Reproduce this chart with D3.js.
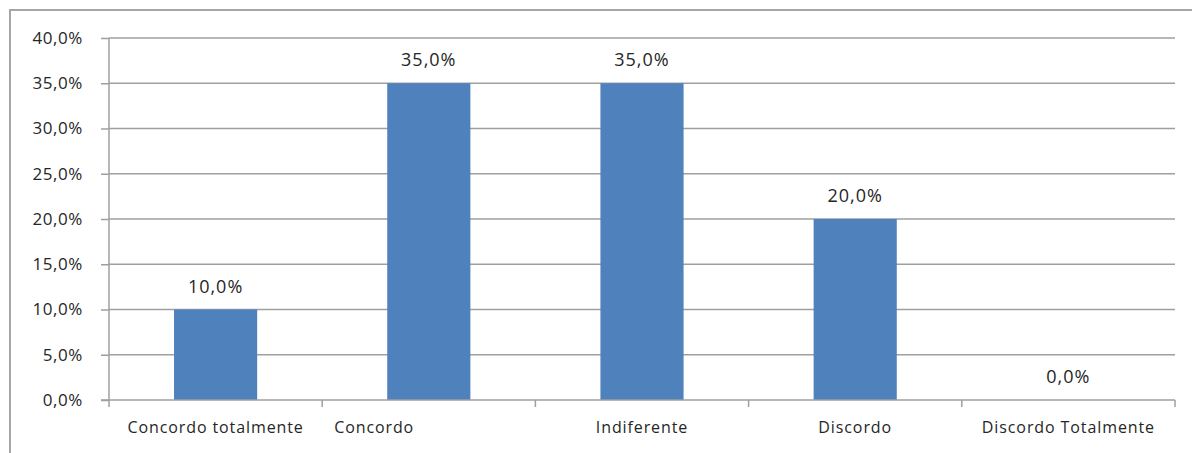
<!DOCTYPE html>
<html>
<head>
<meta charset="utf-8">
<script src="https://cdn.jsdelivr.net/npm/d3@7"></script>
<style>
body { margin: 0; background: #fff; }
svg { display: block; }
</style>
</head>
<body>
<div id="svgWrapper"></div>
<script>
"use strict"
// data
var categories = ["Concordo totalmente", "Concordo", "Indiferente", "Discordo", "Discordo Totalmente"];
var values = [0.10, 0.35, 0.35, 0.20, 0.0];
var yTicks = [0, 0.05, 0.10, 0.15, 0.20, 0.25, 0.30, 0.35, 0.40];

function fmt(v) {
    return (v * 100).toFixed(1).replace(".", ",") + "%";
}

function visualiseData() {
    var fullWidth = 1192;
    var fullHeight = 453;
    const svg = d3.select("#svgWrapper").append("svg").attr("width", fullWidth).attr("height", fullHeight);

    var left = 109, right = 1175, top = 38, bottom = 400;

    // outer frame (only top and left visible)
    svg.append("path")
        .attr("d", "M10," + fullHeight + " L10,10 L" + fullWidth + ",10")
        .attr("fill", "none").attr("stroke", "#a6a6a6").attr("stroke-width", 2);

    var xScale = d3.scaleBand().domain(categories).range([left, right]).paddingInner(0.61).paddingOuter(0.305);
    var yScale = d3.scaleLinear().domain([0, 0.4]).range([bottom, top]);

    // gridlines
    svg.append("g").selectAll("line").data(yTicks.filter(d => d > 0)).enter().append("line")
        .attr("x1", left).attr("x2", right)
        .attr("y1", d => yScale(d)).attr("y2", d => yScale(d))
        .attr("stroke", "#9f9f9f").attr("stroke-width", 1.5);

    // bars
    svg.append("g").selectAll("rect").data(values).enter().append("rect")
        .attr("x", (d, i) => xScale(categories[i]))
        .attr("width", xScale.bandwidth())
        .attr("y", d => yScale(d))
        .attr("height", d => bottom - yScale(d))
        .attr("fill", "#4f81bd");

    // value labels
    svg.append("g").selectAll("text").data(values).enter().append("text")
        .attr("x", (d, i) => xScale(categories[i]) + xScale.bandwidth() / 2)
        .attr("y", d => yScale(d) - 17)
        .attr("text-anchor", "middle")
        .attr("font-family", "Open Sans, sans-serif").attr("font-size", 18)
        .attr("letter-spacing", 1)
        .attr("fill", "#262626")
        .text(d => fmt(d));

    // y axis
    var yAxis = d3.axisLeft(yScale).tickValues(yTicks).tickFormat(fmt).tickSize(8).tickPadding(18);
    var gy = svg.append("g").attr("transform", "translate(" + left + ",0)").call(yAxis);
    gy.select(".domain").attr("stroke", "#9f9f9f").attr("stroke-width", 1.5).attr("d", "M0," + top + "V" + bottom);
    gy.selectAll(".tick line").attr("stroke", "#9f9f9f").attr("stroke-width", 1.5);
    gy.selectAll(".tick text").attr("font-family", "Open Sans, sans-serif").attr("font-size", 17)
        .attr("letter-spacing", 0.6).attr("fill", "#262626");

    // x axis baseline and boundary ticks
    var step = xScale.step();
    var gx = svg.append("g");
    gx.append("line").attr("x1", left - 8).attr("x2", right).attr("y1", bottom).attr("y2", bottom)
        .attr("stroke", "#9f9f9f").attr("stroke-width", 1.5);
    gx.selectAll(".bt").data(d3.range(categories.length + 1)).enter().append("line")
        .attr("x1", i => left + i * step).attr("x2", i => left + i * step)
        .attr("y1", bottom).attr("y2", bottom + 7)
        .attr("stroke", "#9f9f9f").attr("stroke-width", 1.5);

    // category labels ("Concordo" sits left-aligned in its band in the original)
    gx.selectAll("text").data(categories).enter().append("text")
        .attr("x", (d, i) => i == 1 ? left + step + 12 : xScale(d) + xScale.bandwidth() / 2)
        .attr("y", bottom + 33)
        .attr("text-anchor", (d, i) => i == 1 ? "start" : "middle")
        .attr("font-family", "Open Sans, sans-serif").attr("font-size", 16)
        .attr("letter-spacing", 0.9)
        .attr("fill", "#262626")
        .text(d => d);
}

window.onload = visualiseData;
</script>
</body>
</html>
